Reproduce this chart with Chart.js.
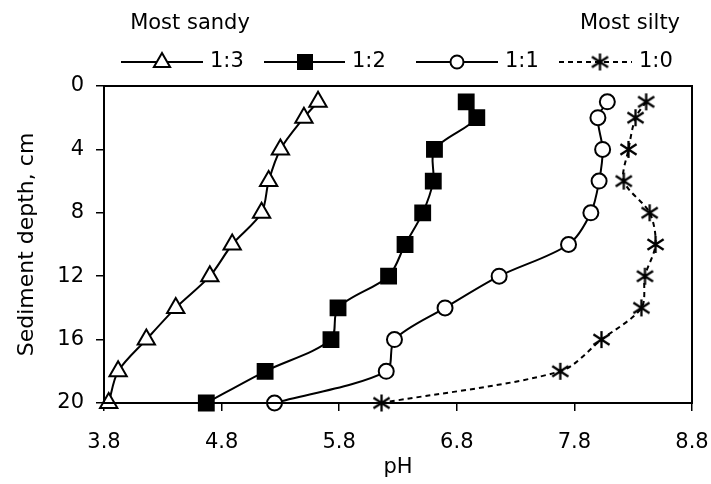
<!DOCTYPE html>
<html>
<head>
<meta charset="utf-8">
<script src="https://cdn.jsdelivr.net/npm/chart.js@4"></script>
<style>
  html, body { margin: 0; padding: 0; background: #fff; }
  #wrap { width: 711px; height: 484px; }
</style>
</head>
<body>
<div id="wrap"><canvas id="chartPH" width="711" height="484"></canvas></div>
<script>
// Depth profiles of pH (sand:silt ratios)
const depths = [1, 2, 4, 6, 8, 10, 12, 14, 16, 18, 20];
const ph13 = [5.62, 5.50, 5.30, 5.20, 5.14, 4.89, 4.70, 4.41, 4.16, 3.92, 3.84];
const ph12 = [6.88, 6.97, 6.61, 6.60, 6.51, 6.36, 6.22, 5.79, 5.73, 5.17, 4.67];
const ph11 = [8.08, 8.00, 8.04, 8.01, 7.94, 7.75, 7.16, 6.70, 6.27, 6.20, 5.25];
const ph10 = [8.41, 8.32, 8.26, 8.22, 8.44, 8.49, 8.40, 8.37, 8.03, 7.68, 6.16];
const seriesNames = ["1:3", "1:2", "1:1", "1:0"];
const xTicks = [3.8, 4.8, 5.8, 6.8, 7.8, 8.8];
const yTicks = [0, 4, 8, 12, 16, 20];

const FONT = "'DejaVu Sans', sans-serif";
Chart.defaults.font.family = FONT;
Chart.defaults.font.size = 21;
Chart.defaults.color = "#000";

// asterisk marker (6 arms)
function makeStar(size) {
  const c = document.createElement("canvas");
  c.width = size; c.height = size;
  const g = c.getContext("2d");
  const m = size / 2, r = size / 2 - 1;
  g.strokeStyle = "#000";
  g.lineWidth = 2.3;
  g.beginPath();
  g.moveTo(m, m - r); g.lineTo(m, m + r);
  g.moveTo(m - r * 0.95, m - r * 0.62); g.lineTo(m + r * 0.95, m + r * 0.62);
  g.moveTo(m - r * 0.95, m + r * 0.62); g.lineTo(m + r * 0.95, m - r * 0.62);
  g.stroke();
  return c;
}
const star = makeStar(19);

const toPoints = (xs) => xs.map((v, i) => ({ x: v, y: depths[i] }));

const styles = [
  { pointStyle: "triangle", pointRadius: 10, backgroundColor: "#fff", dash: [] },
  { pointStyle: "rect", pointRadius: 10.5, backgroundColor: "#000", dash: [] },
  { pointStyle: "circle", pointRadius: 7.5, backgroundColor: "#fff", dash: [] },
  { pointStyle: star, pointRadius: 9, backgroundColor: "#fff", dash: [5, 4] }
];
const values = [ph13, ph12, ph11, ph10];

// legend + top labels + box
const decor = {
  id: "decor",
  afterDraw(chart) {
    const ctx = chart.ctx;
    const a = chart.chartArea;
    ctx.save();
    ctx.strokeStyle = "#000";
    ctx.lineWidth = 2;
    ctx.strokeRect(a.left, a.top, a.right - a.left, a.bottom - a.top);

    ctx.fillStyle = "#000";
    ctx.font = "21px " + FONT;
    ctx.textBaseline = "middle";
    ctx.textAlign = "center";
    ctx.fillText("Most sandy", 190, 24);
    ctx.fillText("Most silty", 630, 24);

    const cx = [162, 305, 457, 600];
    const lx = [210, 352, 505, 639];
    const ly = 62;
    chart.data.datasets.forEach((ds, i) => {
      ctx.save();
      ctx.lineWidth = 2;
      ctx.strokeStyle = "#000";
      ctx.setLineDash(ds.borderDash || []);
      ctx.beginPath();
      ctx.moveTo(cx[i] - 41, ly);
      ctx.lineTo(Math.min(cx[i] + 41, lx[i] - 7), ly);
      ctx.stroke();
      ctx.setLineDash([]);
      const st = ds.pointStyle;
      ctx.fillStyle = ds.pointBackgroundColor;
      ctx.lineWidth = 2;
      ctx.beginPath();
      if (st === "triangle") {
        const r = 9;
        ctx.moveTo(cx[i], ly - r);
        ctx.lineTo(cx[i] + r * 0.9, ly + r * 0.55);
        ctx.lineTo(cx[i] - r * 0.9, ly + r * 0.55);
        ctx.closePath();
        ctx.fill(); ctx.stroke();
      } else if (st === "rect") {
        ctx.rect(cx[i] - 7, ly - 7, 14, 14);
        ctx.fill(); ctx.stroke();
      } else if (st === "circle") {
        ctx.arc(cx[i], ly, 6.5, 0, Math.PI * 2);
        ctx.fill(); ctx.stroke();
      } else {
        ctx.drawImage(st, cx[i] - st.width / 2, ly - st.height / 2);
      }
      ctx.fillStyle = "#000";
      ctx.textAlign = "left";
      ctx.fillText(ds.label, lx[i], ly);
      ctx.restore();
    });
    ctx.restore();
  }
};

new Chart(document.getElementById("chartPH"), {
  type: "line",
  data: {
    datasets: values.map((v, i) => ({
      label: seriesNames[i],
      data: toPoints(v),
      borderColor: "#000",
      borderWidth: 2,
      borderDash: styles[i].dash,
      tension: 0.3,
      pointStyle: styles[i].pointStyle,
      pointRadius: styles[i].pointRadius,
      pointBackgroundColor: styles[i].backgroundColor,
      pointBorderColor: "#000",
      pointBorderWidth: 2,
      clip: false
    }))
  },
  options: {
    responsive: false,
    animation: false,
    layout: { padding: { top: 86, right: 19, left: 0, bottom: 0 } },
    plugins: { legend: { display: false }, tooltip: { enabled: false } },
    scales: {
      x: {
        type: "linear",
        min: xTicks[0],
        max: xTicks[xTicks.length - 1],
        afterFit(s) { s.height = 81; s.paddingLeft = 0; s.paddingRight = 0; },
        afterBuildTicks(s) { s.ticks = xTicks.map(v => ({ value: v })); },
        ticks: { stepSize: 1, padding: 19, callback: v => v.toFixed(1) },
        grid: { drawOnChartArea: false, tickLength: 8, color: "#000", lineWidth: 1.5 },
        border: { color: "#000", width: 2 },
        title: { display: true, text: "pH", padding: { top: 0, bottom: 4 } }
      },
      y: {
        type: "linear",
        reverse: true,
        min: yTicks[0],
        max: yTicks[yTicks.length - 1],
        afterFit(s) { s.width = 104; s.paddingTop = 0; s.paddingBottom = 0; },
        afterBuildTicks(s) { s.ticks = yTicks.map(v => ({ value: v })); },
        ticks: { stepSize: 4, padding: 12 },
        grid: { drawOnChartArea: false, tickLength: 8, color: "#000", lineWidth: 1.5 },
        border: { color: "#000", width: 2 },
        title: { display: true, text: "Sediment depth, cm", font: { size: 22 }, padding: { top: 14, bottom: 0 } }
      }
    }
  },
  plugins: [decor]
});
</script>
</body>
</html>
